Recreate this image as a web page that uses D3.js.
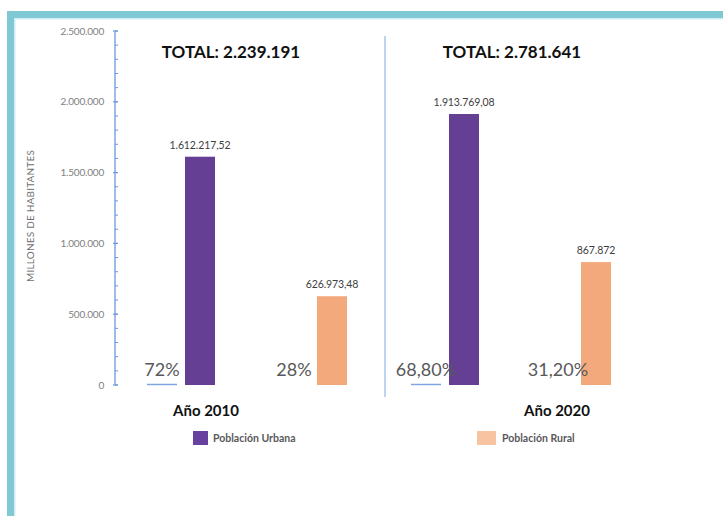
<!DOCTYPE html>
<html>
<head>
<meta charset="utf-8">
<script src="https://cdn.jsdelivr.net/npm/d3@7"></script>
<style>
  html, body { margin: 0; padding: 0; background: #fff; }
  svg { display: block; }
  text { font-family: Lato, "Open Sans", sans-serif; }
</style>
</head>
<body>
<svg id="chart" width="723" height="516"></svg>
<script>
// ---- data ----
const years = ["Año 2010", "Año 2020"];
const seriesNames = ["Población Urbana", "Población Rural"];
const urbanValues = [1612217.52, 1913769.08];
const ruralValues = [626973.48, 867872];
const urbanValueLabels = ["1.612.217,52", "1.913.769,08"];
const ruralValueLabels = ["626.973,48", "867.872"];
const urbanShareValues = [0.72, 0.688];
const urbanShareLabels = ["72%", "68,80%"];
const ruralShareLabels = ["28%", "31,20%"];
const totalLabels = ["TOTAL: 2.239.191", "TOTAL: 2.781.641"];
const yTicks = [0, 500000, 1000000, 1500000, 2000000, 2500000];
const yTickLabels = ["0", "500.000", "1.000.000", "1.500.000", "2.000.000", "2.500.000"];
const yTitle = "MILLONES DE HABITANTES";

// ---- layout / style ----
const colors = { "Población Urbana": "#643f94", "Población Rural": "#f4a97c" };
const legendColors = { "Población Urbana": "#6840a0", "Población Rural": "#f8c3a0" };
const barW = 30;
const totalDx = [84, 101];
const yearDx = [59, 146];

const svg = d3.select("#chart");

// border
svg.append("rect").attr("x", 7).attr("y", 11).attr("width", 730).attr("height", 7).attr("fill", "#7fc9d5");
svg.append("rect").attr("x", 7).attr("y", 11).attr("width", 7).attr("height", 520).attr("fill", "#7fc9d5");
svg.append("rect").attr("x", 14).attr("y", 18).attr("width", 720).attr("height", 1.5).attr("fill", "#d3eef2");
svg.append("rect").attr("x", 14).attr("y", 18).attr("width", 1.5).attr("height", 520).attr("fill", "#d3eef2");

// scales
const y = d3.scaleLinear().domain([0, 2500000]).range([385, 31]);
const x0 = d3.scaleBand().domain(years).range([147, 675]).paddingInner(0).paddingOuter(0);
const x1 = d3.scalePoint().domain(seriesNames).range([38, 170]);

// y axis
const axisG = svg.append("g").attr("transform", "translate(115,0)");
axisG.append("line").attr("x1", 0).attr("x2", 0).attr("y1", y(2500000)).attr("y2", y(0))
  .attr("stroke", "#6c98dc").attr("stroke-width", 1.3);
const minorTicks = d3.range(0, 2500001, 100000);
axisG.selectAll("line.minor").data(minorTicks).join("line").attr("class", "minor")
  .attr("x1", 0).attr("x2", 3).attr("y1", d => y(d)).attr("y2", d => y(d))
  .attr("stroke", "#6c98dc").attr("stroke-width", 1);
axisG.selectAll("line.major").data(yTicks).join("line").attr("class", "major")
  .attr("x1", -2).attr("x2", 3).attr("y1", d => y(d)).attr("y2", d => y(d))
  .attr("stroke", "#6c98dc").attr("stroke-width", 1.2);
svg.selectAll("text.ytick").data(yTicks).join("text").attr("class", "ytick")
  .attr("x", 104).attr("y", d => y(d) + 3.5)
  .attr("text-anchor", "end").attr("font-size", 10).attr("fill", "#7f7f7f")
  .attr("letter-spacing", -0.2)
  .text((d, i) => yTickLabels[i]);

svg.append("text").attr("transform", "translate(34,216) rotate(-90)")
  .attr("text-anchor", "middle").attr("font-size", 10).attr("fill", "#6f6f6f")
  .attr("letter-spacing", 0.2)
  .text(yTitle);

// divider
svg.append("line").attr("x1", x0(years[1]) - 26).attr("x2", x0(years[1]) - 26)
  .attr("y1", 36).attr("y2", 397).attr("stroke", "#a8c4ec").attr("stroke-width", 1.5);

// bars
const rows = years.map((yr, i) => ({
  year: yr, i,
  vals: [
    { s: seriesNames[0], v: urbanValues[i], lab: urbanValueLabels[i], share: urbanShareLabels[i] },
    { s: seriesNames[1], v: ruralValues[i], lab: ruralValueLabels[i], share: ruralShareLabels[i] }
  ]
}));

const g = svg.selectAll("g.year").data(rows).join("g").attr("class", "year")
  .attr("transform", d => `translate(${x0(d.year)},0)`);

g.selectAll("rect.bar").data(d => d.vals).join("rect").attr("class", "bar")
  .attr("x", d => x1(d.s)).attr("width", barW)
  .attr("y", d => y(d.v)).attr("height", d => y(0) - y(d.v))
  .attr("fill", d => colors[d.s]);

g.selectAll("text.val").data(d => d.vals).join("text").attr("class", "val")
  .attr("x", d => x1(d.s) + barW / 2).attr("y", d => y(d.v) - 8)
  .attr("text-anchor", "middle").attr("font-size", 10.5).attr("fill", "#404040")
  .attr("letter-spacing", -0.1)
  .text(d => d.lab);

g.selectAll("text.share").data(d => d.vals).join("text").attr("class", "share")
  .attr("x", d => x1(d.s) - 38 + barW / 2).attr("y", 376)
  .attr("text-anchor", "middle").attr("font-size", 18).attr("fill", "#595959")
  .text(d => d.share);

// share series (tiny values drawn as flat marks)
g.append("line")
  .attr("x1", 0).attr("x2", barW)
  .attr("y1", d => y(urbanShareValues[d.i]) - 0.5).attr("y2", d => y(urbanShareValues[d.i]) - 0.5)
  .attr("stroke", "#7fa6e0").attr("stroke-width", 1.5);

// totals
g.append("text").attr("x", d => totalDx[d.i]).attr("y", 58)
  .attr("text-anchor", "middle").attr("font-size", 17).attr("font-weight", "bold").attr("fill", "#111")
  .text(d => totalLabels[d.i]);

// year labels
g.append("text").attr("x", d => yearDx[d.i]).attr("y", 416)
  .attr("text-anchor", "middle").attr("font-size", 15).attr("font-weight", "bold").attr("fill", "#111")
  .text(d => d.year);

// legend
const legendX = [193, 477];
const lg = svg.selectAll("g.legend").data(seriesNames).join("g").attr("class", "legend")
  .attr("transform", (d, i) => `translate(${legendX[i]},431)`);
lg.append("rect").attr("width", (d, i) => i === 0 ? 15 : 19).attr("height", 14)
  .attr("fill", d => legendColors[d]);
lg.append("text").attr("x", (d, i) => i === 0 ? 20 : 25).attr("y", 11)
  .attr("font-size", 10.5).attr("font-weight", "bold").attr("fill", "#595959")
  .text(d => d);
</script>
</body>
</html>
